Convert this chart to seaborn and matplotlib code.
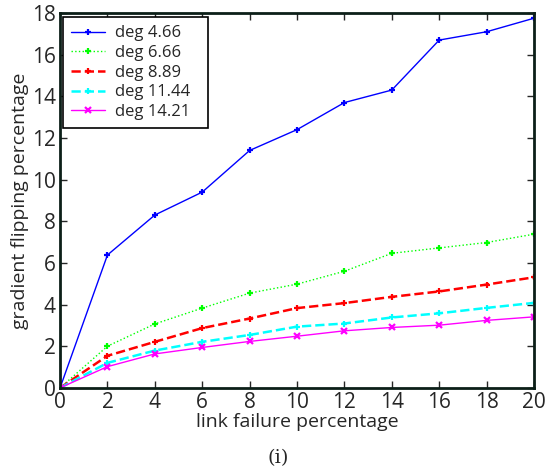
import matplotlib
matplotlib.use("Agg")
import matplotlib.pyplot as plt
import seaborn as sns
import pandas as pd

x_vals = [0, 2, 4, 6, 8, 10, 12, 14, 16, 18, 20]
deg_466 = [0.0, 6.38, 8.3, 9.4, 11.4, 12.4, 13.7, 14.3, 16.7, 17.1, 17.75]
deg_666 = [0.0, 2.0, 3.07, 3.83, 4.55, 4.98, 5.6, 6.46, 6.72, 6.98, 7.38]
deg_889 = [0.0, 1.54, 2.21, 2.87, 3.33, 3.83, 4.07, 4.37, 4.63, 4.96, 5.31]
deg_1144 = [0.0, 1.2, 1.79, 2.21, 2.54, 2.94, 3.09, 3.38, 3.58, 3.84, 4.08]
deg_1421 = [0.0, 1.02, 1.63, 1.94, 2.23, 2.48, 2.74, 2.9, 3.01, 3.24, 3.41]
labels = ["deg 4.66", "deg 6.66", "deg 8.89", "deg 11.44", "deg 14.21"]

sns.set_style("ticks")
plt.rcParams['font.family'] = ['Open Sans', 'DejaVu Sans']

fig = plt.figure(figsize=(5.46, 4.73), dpi=100)
ax = fig.add_axes([0.110, 0.18, 0.868, 0.7925])

series = [deg_466, deg_666, deg_889, deg_1144, deg_1421]
colors = ["#0000ff", "#00ff00", "#ff0000", "#00ffff", "#ff00ff"]
styles = ["-", ":", "--", "--", "-"]
widths = [1.0, 1.0, 1.8, 1.8, 1.0]
markers = ["+", "+", "+", "+", "x"]

for vals, lab, c, ls, lw, mk in zip(series, labels, colors, styles, widths, markers):
    df = pd.DataFrame({"x": x_vals, "y": vals})
    sns.lineplot(data=df, x="x", y="y", ax=ax, color=c, linestyle=ls, linewidth=lw,
                 marker=mk, markersize=5, markeredgewidth=1.6, markeredgecolor=c,
                 label=lab)

ax.set_xlim(0, 20)
ax.set_ylim(0, 18)
ax.set_xticks(range(0, 21, 2))
ax.set_yticks(range(0, 19, 2))
ax.tick_params(direction="in", length=5, width=1, labelsize=15, top=True, right=True, pad=3)
for sp in ax.spines.values():
    sp.set_visible(True)
    sp.set_linewidth(2)
    sp.set_color("#0c1f18")
ax.set_xlabel("link failure percentage", fontsize=14, labelpad=0)
ax.set_ylabel("gradient flipping percentage", fontsize=14, labelpad=2)

leg = ax.legend(loc="upper left", bbox_to_anchor=(0.0063, 0.0, 0.306, 0.989),
                mode="expand", fontsize=12, frameon=True, fancybox=False,
                framealpha=1, edgecolor="black", borderpad=0.5, labelspacing=0.22,
                handlelength=2.0, handletextpad=0.6, borderaxespad=0.0)
leg.get_frame().set_linewidth(1.2)

fig.text(0.51, 0.032, "(i)", fontsize=14, family="DejaVu Serif", ha="center", va="center")

fig.savefig("out.png", dpi=100)
